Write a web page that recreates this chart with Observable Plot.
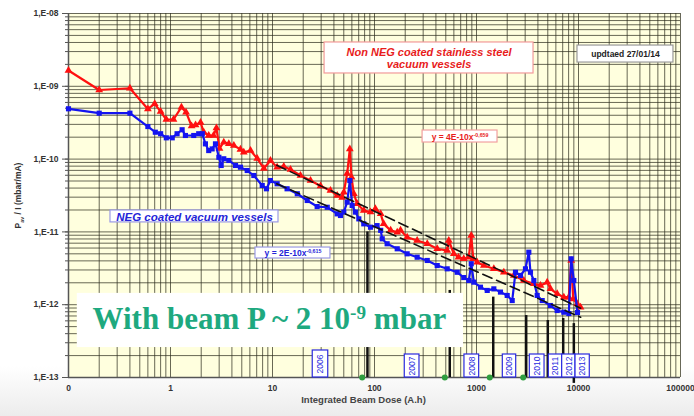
<!DOCTYPE html>
<html><head><meta charset="utf-8">
<script src="https://cdn.jsdelivr.net/npm/d3@7"></script>
<script src="https://cdn.jsdelivr.net/npm/@observablehq/plot@0.6"></script>
<style>
html,body{margin:0;padding:0;}
body{width:694px;height:416px;background:linear-gradient(to bottom,#ffffff 0%,#ffffff 88%,#ececec 100%);}
#chart svg{display:block;}
</style>
</head><body><div id="chart"></div>
<script>
// ---------- data ----------
const redDose = [0.1,0.2,0.4,0.6,0.7,0.8,0.91,1.07,1.28,1.42,1.61,1.76,1.97,2.12,2.37,2.64,2.82,3.02,3.33,3.73,4.18,4.85,5.23,6.09,7.08,8.22,9.55,11.1,12.9,15.0,18.8,23.6,29.6,37.0,43.1,48.2,50.0,54.0,57.3,59.5,62.7,67.7,78.5,91.4,102,115,123,144,167,180,209,262,329,412,516,535,599,666,750,841,888,929,1016,1180,1479,1853,2322,2911,3648,4238,4932,5313,6180,7178,8035,8480,8870,9710,10470];
const redP = [1.65e-9,8.9e-10,9.4e-10,4.88e-10,5.75e-10,4.5e-10,3.5e-10,3.5e-10,5.16e-10,4.41e-10,2.85e-10,2.94e-10,3.18e-10,2.34e-10,2.11e-10,2.11e-10,2.67e-10,1.4e-10,1.71e-10,1.62e-10,1.54e-10,1.36e-10,1.24e-10,1.31e-10,1.02e-10,7.43e-11,9.57e-11,7.74e-11,7.91e-11,7.2e-11,5.95e-11,5.08e-11,4.27e-11,3.71e-11,3.16e-11,2.97e-11,3.51e-11,6.34e-11,1.38e-10,5.64e-11,3.34e-11,2.43e-11,1.97e-11,1.87e-11,2.08e-11,1.77e-11,1.29e-11,1.05e-11,9.9e-12,1.05e-11,8.46e-12,7.62e-12,6.87e-12,5.86e-12,5.55e-12,7.62e-12,5.0e-12,4.49e-12,4.27e-12,4.49e-12,8.93e-12,4.27e-12,3.84e-12,3.45e-12,3.11e-12,2.79e-12,2.52e-12,2.15e-12,1.94e-12,1.84e-12,2.04e-12,1.65e-12,1.41e-12,1.27e-12,1.27e-12,4.05e-12,1.2e-12,1.03e-12,9.25e-13];

const blueDose = [0.1,0.2,0.4,0.6,0.71,0.8,0.91,1.04,1.16,1.30,1.40,1.69,1.89,2.05,2.20,2.37,2.56,2.76,2.98,3.14,3.33,3.73,4.34,4.85,5.65,6.56,7.93,8.73,9.55,11.1,13.9,17.5,21.9,27.4,34.4,43.1,46.4,50.0,54.0,57.3,60.4,65.1,70.2,78.5,91.4,106,115,119,133,167,209,262,329,412,516,647,750,841,888,942,1094,1274,1479,1718,2000,2239,2411,2700,3020,3258,3382,3648,3936,4406,5313,6180,7178,8035,8480,8995,9772];
const blueP = [4.91e-10,4.27e-10,4.27e-10,2.8e-10,2.34e-10,2.23e-10,1.96e-10,1.96e-10,2.23e-10,2.53e-10,2.11e-10,2.11e-10,2.23e-10,2.23e-10,1.62e-10,1.31e-10,1.38e-10,1.62e-10,1.06e-10,8.17e-11,1.01e-10,9.57e-11,8.17e-11,7.74e-11,6.97e-11,5.95e-11,4.34e-11,3.91e-11,5.08e-11,4.58e-11,3.91e-11,3.34e-11,2.7e-11,2.23e-11,2.18e-11,1.77e-11,1.68e-11,1.87e-11,2.56e-11,5.08e-11,2.31e-11,1.87e-11,1.51e-11,1.29e-11,1.16e-11,1.22e-11,1.05e-11,8.04e-12,6.87e-12,5.86e-12,5.0e-12,4.49e-12,4.05e-12,3.45e-12,3.11e-12,2.79e-12,2.36e-12,2.15e-12,3.65e-12,2.04e-12,1.74e-12,1.57e-12,1.65e-12,1.49e-12,1.34e-12,1.14e-12,2.79e-12,2.52e-12,3.11e-12,5.26e-12,2.79e-12,2.15e-12,1.34e-12,1.14e-12,9.75e-13,8.32e-13,7.89e-13,7.57e-13,4.27e-12,2.15e-12,7.81e-13];

// power-law fits printed on the chart
const fitNames = ["Non NEG", "NEG"];
const fitCoef = [4e-10, 2e-10];
const fitExp = [-0.659, -0.615];
const fitFrom = 11, fitTo = 10500;

// ticks
const xTicks = [0.1, 1, 10, 100, 1000, 10000, 100000];
const xTickLabels = ["0", "1", "10", "100", "1000", "10000", "100000"];
const yTicks = [1e-13, 1e-12, 1e-11, 1e-10, 1e-9, 1e-8];
const yTickLabels = ["1,E-13", "1,E-12", "1,E-11", "1,E-10", "1,E-09", "1,E-08"];

// run markers (vertical black bars)
const barDose = [85.3, 547, 1459, 3070, 5000, 7080, 9000];
const barTop = [1.0e-11, 1.57e-12, 1.27e-12, 7.1e-13, 6.07e-13, 6.46e-13, 5.5e-13];
const barBottom = [1e-13, 1e-13, 1e-13, 1e-13, 1e-13, 1e-13, 8.3e-14];

// green points on the axis
const greenDose = [75.7, 489, 1349, 2870];

// year boxes
const years = ["2006", "2007", "2008", "2009", "2010", "2011", "2012", "2013"];
const yearFrom = [24.8, 198, 762, 1811, 3333, 5117, 6918, 9350];
const yearTo = [35.2, 276, 1062, 2450, 4645, 6918, 9350, 12900];
const yearTop = [2.35e-13, 2.07e-13, 2.07e-13, 2.07e-13, 2.07e-13, 2.07e-13, 2.07e-13, 2.07e-13];

// annotations
const annoText = [
  "Non NEG coated stainless steel\nvacuum vessels",
  "updtaed 27/01/14",
  "y = 4E-10x^{-0,659}",
  "NEG coated vacuum vessels",
  "y = 2E-10x^{-0,615}"
];
const annoX1 = [32.4, 9772, 296, 0.258, 6.81];
const annoX2 = [3623, 85310, 1607, 11.45, 37.0];
const annoY1 = [1.5e-9, 2.12e-9, 1.69e-10, 1.35e-11, 4.31e-12];
const annoY2 = [4.0e-9, 3.63e-9, 2.47e-10, 1.97e-11, 6.1e-12];
const annoColor = ["#e81c1c", "#222222", "#e81c1c", "#2424d8", "#2424d8"];
const annoBorder = ["#f29a9a", "#9a9a9a", "#f2a0a0", "#9a9ae6", "#9a9ae6"];
const annoStyle = ["italic", "normal", "normal", "italic", "normal"];
const annoSize = [11, 8.5, 8.5, 11.5, 8.5];

const beamText = "With beam P ~ 2 10^{-9} mbar";
const beamBox = {x1: 0.122, x2: 746, y1: 2.58e-13, y2: 1.43e-12};
const beamAt = {x: 0.172, y: 6.27e-13};

const xTitle = "Integrated Beam Dose (A.h)";
const xTitleAt = 78;
const yTitle = "P_{av} / I (mbar/mA)";

// ---------- derived tables ----------
const red = redDose.map((d, i) => ({x: d, y: redP[i]}));
const blue = blueDose.map((d, i) => ({x: d, y: blueP[i]}));
const fits = fitNames.flatMap((n, i) => [fitFrom, fitTo].map(x => ({name: n, x, y: fitCoef[i] * Math.pow(x, fitExp[i])})));
const bars = barDose.map((d, i) => ({x: d, y1: barBottom[i], y2: barTop[i]}));
const yearBoxes = years.map((t, i) => ({t, x1: yearFrom[i], x2: yearTo[i], y1: 1e-13, y2: yearTop[i]}));
const annos = annoText.map((t, i) => ({t, x1: annoX1[i], x2: annoX2[i], y1: annoY1[i], y2: annoY2[i], c: annoColor[i], b: annoBorder[i], s: annoStyle[i], f: annoSize[i]}));

const gridX = [], gridY = [];
for (let e = -1; e <= 4; e++) for (let m = 1; m <= 9; m++) gridX.push(m * Math.pow(10, e));
gridX.push(100000);
for (let e = -13; e <= -9; e++) for (let m = 1; m <= 9; m++) gridY.push(+(m + "e" + e));
gridY.push(1e-8);

const sans = "'Liberation Sans', Arial, sans-serif";

const plot = Plot.plot({
  width: 694, height: 416,
  marginLeft: 68, marginRight: 14, marginTop: 13, marginBottom: 39,
  style: {background: "transparent", fontFamily: sans, overflow: "visible"},
  x: {type: "log", domain: [0.1, 100000]},
  y: {type: "log", domain: [1e-13, 1e-8]},
  marks: [
    Plot.frame({fill: "#FFFFDE", stroke: null}),
    Plot.ruleX(gridX, {stroke: "#2e2e1e", strokeOpacity: 0.72, strokeWidth: 1}),
    Plot.ruleY(gridY, {stroke: "#2e2e1e", strokeOpacity: 0.72, strokeWidth: 1}),
    Plot.ruleX([0.1], {stroke: "#555", strokeWidth: 1.5}),
    Plot.ruleY([1e-13], {stroke: "#555", strokeWidth: 1.5}),
    Plot.axisX({ticks: xTicks, tickFormat: d => xTickLabels[xTicks.indexOf(d)], tickSize: 0, tickPadding: 7, fontSize: 8.5, fontWeight: "bold", fill: "#333", label: null}),
    Plot.axisY({ticks: gridY, tickFormat: () => "", tickSize: 3, stroke: "#555", label: null}),
    Plot.axisY({ticks: yTicks, tickFormat: d => yTickLabels[yTicks.indexOf(d)], tickSize: 6, tickPadding: 4, fontSize: 8.5, fontWeight: "bold", fill: "#333", stroke: "#555",
      label: yTitle, labelAnchor: "center", labelOffset: 54, labelArrow: "none"}),
    Plot.text([xTitle], {x: xTitleAt, frameAnchor: "bottom", dy: 25, fontSize: 9.5, fontWeight: "bold", fill: "#444"}),
    // run bars
    Plot.ruleX(bars, {x: "x", y1: "y1", y2: "y2", stroke: "#111", strokeWidth: 2.5}),
    // series
    Plot.line(red, {x: "x", y: "y", stroke: "#ff1010", strokeWidth: 2.2}),
    Plot.dot(red, {x: "x", y: "y", symbol: "triangle", r: 2.9, fill: "#ff1010", stroke: null}),
    Plot.line(blue, {x: "x", y: "y", stroke: "#1414f0", strokeWidth: 2.2}),
    Plot.dot(blue, {x: "x", y: "y", symbol: "square", r: 2.9, fill: "#1414f0", stroke: null}),
    // fits
    Plot.line(fits, {x: "x", y: "y", z: "name", stroke: "#111", strokeWidth: 1.6, strokeDasharray: "10,5"}),
    // beam note
    Plot.rect([beamBox], {x1: "x1", x2: "x2", y1: "y1", y2: "y2", fill: "white"}),
    Plot.text([beamText], {x: beamAt.x, y: beamAt.y, textAnchor: "start", fontSize: 31, fontWeight: "bold", fontFamily: "'Liberation Serif', 'Times New Roman', serif", fill: "#1ea97f"}),
    // year boxes
    Plot.rect(yearBoxes, {x1: "x1", x2: "x2", y1: "y1", y2: "y2", fill: "#ffffff", stroke: "#2a2ae0", strokeWidth: 1.2}),
    Plot.text(yearBoxes, {x: d => Math.sqrt(d.x1 * d.x2), y: d => Math.sqrt(d.y1 * d.y2), text: "t", rotate: -90, fontSize: 8.5, fill: "#2a2ae0"}),
    Plot.dot(greenDose, {x: d => d, y: 1e-13, r: 3, fill: "#2f9e3f", stroke: null}),
    // annotation boxes
    Plot.rect(annos, {x1: "x1", x2: "x2", y1: "y1", y2: "y2", fill: "white", stroke: d => d.b, strokeWidth: 1.2}),
    ...annos.map(a => Plot.text([a], {x: d => Math.sqrt(d.x1 * d.x2), y: d => Math.sqrt(d.y1 * d.y2), text: "t", fill: a.c, fontSize: a.f, fontWeight: "bold", fontStyle: a.s, lineHeight: 1.15}))
  ]
});

// superscript / subscript markup
function richText(svg) {
  const NS = "http://www.w3.org/2000/svg";
  svg.querySelectorAll("text").forEach(t => {
    const targets = t.querySelectorAll("tspan").length ? [...t.querySelectorAll("tspan")] : [t];
    for (const el of targets) {
      const s = el.textContent;
      if (!/[\^_]\{/.test(s)) continue;
      el.textContent = "";
      const re = /([\^_])\{([^}]*)\}/g;
      let last = 0, m;
      const add = (str, shift) => {
        const ts = document.createElementNS(NS, "tspan");
        ts.textContent = str;
        if (shift) { ts.setAttribute("baseline-shift", shift); ts.setAttribute("font-size", "62%"); }
        el.appendChild(ts);
      };
      while ((m = re.exec(s))) {
        if (m.index > last) add(s.slice(last, m.index));
        add(m[2], m[1] === "^" ? "super" : "sub");
        last = re.lastIndex;
      }
      if (last < s.length) add(s.slice(last));
    }
  });
}
richText(plot);
document.getElementById("chart").appendChild(plot);
</script>
</body></html>
